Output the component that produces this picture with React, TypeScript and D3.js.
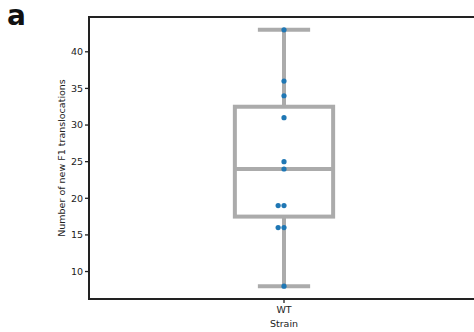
import { useRef, useEffect } from "react";
import * as d3 from "d3";

const categories = ["WT"];
const values = [43, 36, 34, 31, 25, 24, 19, 19, 16, 16, 8];
const yTicks = [10, 15, 20, 25, 30, 35, 40];
// horizontal swarm offsets (in category units)
const offsets = [0, 0, 0, 0, 0, 0, -0.015, 0, -0.015, 0, 0];

export default function App() {
  const ref = useRef<SVGSVGElement>(null);

  useEffect(() => {
    const svg = d3.select(ref.current);
    svg.selectAll("*").remove();

    const width = 474;
    const height = 332;
    const margin = { top: 17, right: -5, bottom: 33, left: 89 };
    const font = "DejaVu Sans, sans-serif";
    const boxHalf = 0.126;
    const capHalf = 0.067;

    const sorted = [...values].sort(d3.ascending);
    const q1 = d3.quantile(sorted, 0.25)!;
    const med = d3.quantile(sorted, 0.5)!;
    const q3 = d3.quantile(sorted, 0.75)!;
    const lo = d3.min(sorted)!;
    const hi = d3.max(sorted)!;
    const pad = (hi - lo) * 0.05;

    const y = d3
      .scaleLinear()
      .domain([lo - pad, hi + pad])
      .range([height - margin.bottom, margin.top]);
    const x = d3
      .scaleLinear()
      .domain([-0.5, 0.5])
      .range([margin.left, width - margin.right]);

    const grey = "#ababab";
    const lw = 4;
    const g = svg.append("g");

    // whiskers
    g.append("line")
      .attr("x1", x(0)).attr("x2", x(0))
      .attr("y1", y(lo)).attr("y2", y(q1))
      .attr("stroke", grey).attr("stroke-width", lw);
    g.append("line")
      .attr("x1", x(0)).attr("x2", x(0))
      .attr("y1", y(q3)).attr("y2", y(hi))
      .attr("stroke", grey).attr("stroke-width", lw);
    [lo, hi].forEach((v) => {
      g.append("line")
        .attr("x1", x(-capHalf)).attr("x2", x(capHalf))
        .attr("y1", y(v)).attr("y2", y(v))
        .attr("stroke", grey).attr("stroke-width", lw);
    });
    // box
    g.append("rect")
      .attr("x", x(-boxHalf))
      .attr("y", y(q3))
      .attr("width", x(boxHalf) - x(-boxHalf))
      .attr("height", y(q1) - y(q3))
      .attr("fill", "white")
      .attr("stroke", grey)
      .attr("stroke-width", lw);
    g.append("line")
      .attr("x1", x(-boxHalf)).attr("x2", x(boxHalf))
      .attr("y1", y(med)).attr("y2", y(med))
      .attr("stroke", grey).attr("stroke-width", lw);

    // points
    g.selectAll("circle")
      .data(values)
      .join("circle")
      .attr("cx", (d, i) => x(offsets[i]))
      .attr("cy", (d) => y(d))
      .attr("r", 2.6)
      .attr("fill", "#1f77b4");

    // spines
    svg.append("line")
      .attr("x1", margin.left).attr("x2", width)
      .attr("y1", margin.top).attr("y2", margin.top)
      .attr("stroke", "#222").attr("stroke-width", 2);
    svg.append("line")
      .attr("x1", margin.left).attr("x2", width)
      .attr("y1", height - margin.bottom).attr("y2", height - margin.bottom)
      .attr("stroke", "#222").attr("stroke-width", 2);
    svg.append("line")
      .attr("x1", margin.left).attr("x2", margin.left)
      .attr("y1", margin.top - 1).attr("y2", height - margin.bottom + 1)
      .attr("stroke", "#222").attr("stroke-width", 2);

    // y ticks
    const yt = svg.append("g");
    yTicks.forEach((t) => {
      yt.append("line")
        .attr("x1", margin.left - 4).attr("x2", margin.left)
        .attr("y1", y(t)).attr("y2", y(t))
        .attr("stroke", "#222").attr("stroke-width", 1.3);
      yt.append("text")
        .attr("x", margin.left - 6)
        .attr("y", y(t))
        .attr("dy", "0.35em")
        .attr("text-anchor", "end")
        .attr("font-family", font)
        .attr("font-size", 9.5)
        .attr("fill", "#222")
        .text(t);
    });

    // x ticks
    categories.forEach((c, i) => {
      svg.append("line")
        .attr("x1", x(i)).attr("x2", x(i))
        .attr("y1", height - margin.bottom).attr("y2", height - margin.bottom + 4)
        .attr("stroke", "#222").attr("stroke-width", 1.3);
      svg.append("text")
        .attr("x", x(i))
        .attr("y", 313)
        .attr("text-anchor", "middle")
        .attr("font-family", font)
        .attr("font-size", 9.5)
        .attr("fill", "#222")
        .text(c);
    });

    svg.append("text")
      .attr("x", x(0))
      .attr("y", 327)
      .attr("text-anchor", "middle")
      .attr("font-family", font)
      .attr("font-size", 9.5)
      .attr("fill", "#222")
      .text("Strain");

    svg.append("text")
      .attr("transform", `translate(65,${(margin.top + height - margin.bottom) / 2}) rotate(-90)`)
      .attr("text-anchor", "middle")
      .attr("font-family", font)
      .attr("font-size", 9.5)
      .attr("fill", "#222")
      .text("Number of new F1 translocations");

    svg.append("text")
      .attr("x", 7)
      .attr("y", 25)
      .attr("font-family", font)
      .attr("font-size", 28)
      .attr("font-weight", "bold")
      .attr("fill", "#111")
      .text("a");
  }, []);

  return (
    <svg
      ref={ref}
      width={474}
      height={332}
      style={{ position: "absolute", left: 0, top: 0 }}
    ></svg>
  );
}
